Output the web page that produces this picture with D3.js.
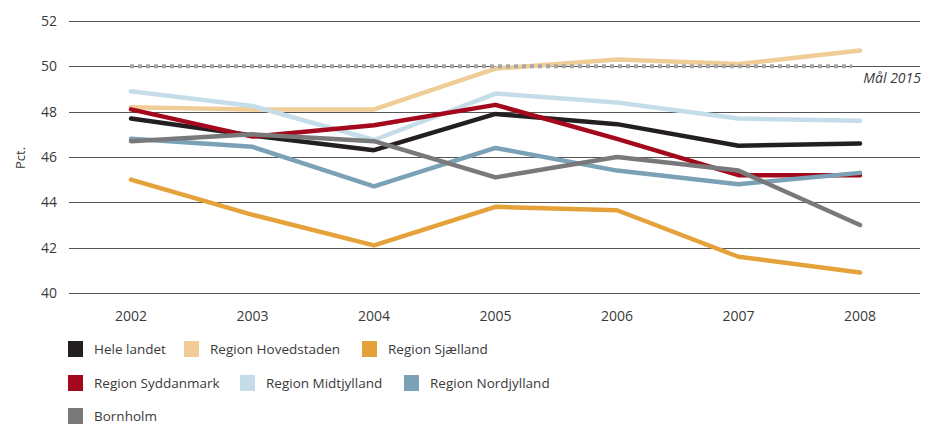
<!DOCTYPE html>
<html>
<head>
<meta charset="utf-8">
<script src="https://cdn.jsdelivr.net/npm/d3@7"></script>
<style>
  body { margin: 0; background: #fff; }
  text { font-family: "Open Sans", "Noto Sans", sans-serif; fill: #3a3a3a; }
</style>
</head>
<body>
<script>
// data
var years = [2002, 2003, 2004, 2005, 2006, 2007, 2008];
var yTicks = [40, 42, 44, 46, 48, 50, 52];
var seriesNames = ["Hele landet", "Region Hovedstaden", "Region Sjælland",
    "Region Syddanmark", "Region Midtjylland", "Region Nordjylland", "Bornholm"];
var heleLandet   = [47.7, 46.95, 46.3, 47.9, 47.45, 46.5, 46.6];
var hovedstaden  = [48.2, 48.1, 48.1, 49.9, 50.3, 50.1, 50.7];
var sjaelland    = [45.0, 43.45, 42.1, 43.8, 43.65, 41.6, 40.9];
var syddanmark   = [48.1, 46.9, 47.4, 48.3, 46.8, 45.2, 45.2];
var midtjylland  = [48.9, 48.25, 46.75, 48.8, 48.4, 47.7, 47.6];
var nordjylland  = [46.8, 46.45, 44.7, 46.4, 45.4, 44.8, 45.3];
var bornholm     = [46.7, 47.0, 46.7, 45.1, 46.0, 45.4, 43.0];
var goalValue = 50;
var goalLabel = "Mål 2015";

var colors = ["#231f20", "#f0cc96", "#e5a23a", "#a3081c", "#c5dde8", "#7aa1b6", "#79797c"];
var values = [heleLandet, hovedstaden, sjaelland, syddanmark, midtjylland, nordjylland, bornholm];

var width = 930, height = 428;

var svg = d3.select("body").append("svg")
    .attr("width", width)
    .attr("height", height);

// scales
var xScale = d3.scalePoint().domain(years).range([131, 860]);
var yScale = d3.scaleLinear().domain([40, 52]).range([293, 21]);

// grid lines
svg.append("g").selectAll("line")
    .data(yTicks)
    .enter().append("line")
    .attr("x1", 69).attr("x2", 920)
    .attr("y1", function (d) { return Math.round(yScale(d)) + 0.5; })
    .attr("y2", function (d) { return Math.round(yScale(d)) + 0.5; })
    .style("stroke", "#555")
    .style("stroke-width", 1.2);

// y labels
svg.append("g").selectAll("text")
    .data(yTicks)
    .enter().append("text")
    .attr("x", 57)
    .attr("y", function (d) { return yScale(d); })
    .attr("dy", "0.35em")
    .style("text-anchor", "end")
    .style("font-size", "14px")
    .text(function (d) { return d; });

// x labels
svg.append("g").selectAll("text")
    .data(years)
    .enter().append("text")
    .attr("x", function (d) { return xScale(d); })
    .attr("y", 321)
    .style("text-anchor", "middle")
    .style("font-size", "14px")
    .text(function (d) { return d; });

// axis title
svg.append("text")
    .attr("transform", "translate(25,158) rotate(-90)")
    .style("text-anchor", "middle")
    .style("font-size", "13px")
    .text("Pct.");

// lines
var line = d3.line()
    .x(function (d, i) { return xScale(years[i]); })
    .y(function (d) { return yScale(d); });

var drawOrder = [0, 1, 2, 4, 3, 5, 6];
drawOrder.forEach(function (k) {
    svg.append("path")
        .datum(values[k])
        .attr("d", line)
        .style("fill", "none")
        .style("stroke", colors[k])
        .style("stroke-width", 4.5)
        .style("stroke-linejoin", "round")
        .style("stroke-linecap", "round");
});

// goal line
svg.append("line")
    .attr("x1", xScale(2002) - 1).attr("x2", 852)
    .attr("y1", yScale(goalValue)).attr("y2", yScale(goalValue))
    .style("stroke", "#a6a6a8")
    .style("stroke-width", 4)
    .style("stroke-dasharray", "4,4");

svg.append("text")
    .attr("x", 921)
    .attr("y", yScale(goalValue) + 17)
    .style("text-anchor", "end")
    .style("font-style", "italic")
    .style("font-size", "14px")
    .text(goalLabel);

// legend
var legendPos = [[68, 349], [184, 349], [362, 349], [68, 383], [240, 383], [404, 383], [68, 416]];
var legend = svg.append("g").selectAll("g")
    .data(seriesNames)
    .enter().append("g")
    .attr("transform", function (d, i) { return "translate(" + legendPos[i][0] + "," + legendPos[i][1] + ")"; });

legend.append("rect")
    .attr("x", 0).attr("y", -8)
    .attr("width", 15).attr("height", 16)
    .style("fill", function (d, i) { return colors[i]; });

legend.append("text")
    .attr("x", 26)
    .attr("dy", "0.35em")
    .style("font-size", "13.5px")
    .text(function (d) { return d; });
</script>
</body>
</html>
